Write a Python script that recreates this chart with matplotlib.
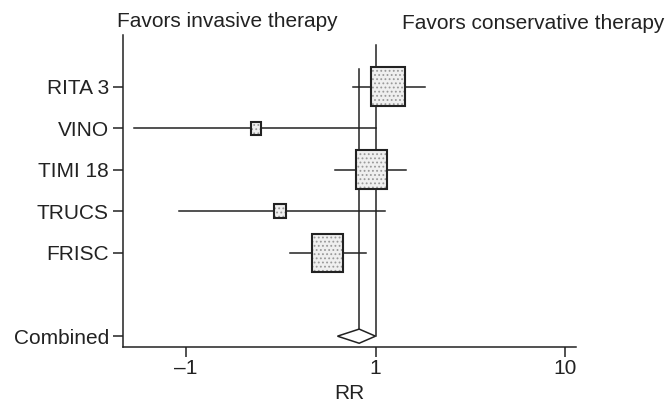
import numpy as np
import matplotlib
matplotlib.use('Agg')
import matplotlib.pyplot as plt
from matplotlib.patches import Rectangle, Polygon

plt.rcParams['font.family'] = ['Liberation Sans', 'DejaVu Sans']
plt.rcParams['hatch.linewidth'] = 0.8

studies = ['RITA 3', 'VINO', 'TIMI 18', 'TRUCS', 'FRISC']
rr = [1.16, 0.234, 0.95, 0.314, 0.56]
ci_lo = [0.76, 0.0535, 0.61, 0.092, 0.354]
ci_hi = [1.82, 1.0, 1.45, 1.12, 0.89]
# box size (width in decades, height in rows) ~ study weight
box_w = [0.18, 0.053, 0.163, 0.066, 0.163]
box_h = [0.94, 0.31, 0.94, 0.34, 0.91]

comb_rr, comb_lo, comb_hi = 0.82, 0.63, 1.0
ylabels = studies + ['Combined']
ypos = [0, 1, 2, 3, 4, 6]
xticks = [0.1, 1, 10]
xticklabels = ['\u20131', '1', '10']

ink = '#222222'
fs = 15
fig = plt.figure(figsize=(6.67, 4.03), dpi=100)
ax = fig.add_axes([0.184, 0.139, 0.6796, 0.774])
ax.set_xscale('log')

for i in range(len(studies)):
    ax.plot([ci_lo[i], ci_hi[i]], [i, i], color=ink, lw=1.1, zorder=2)
    x0 = rr[i] * 10 ** (-box_w[i] / 2)
    x1 = rr[i] * 10 ** (box_w[i] / 2)
    ax.add_patch(Rectangle((x0, i - box_h[i] / 2), x1 - x0, box_h[i],
                           facecolor='#efefef', edgecolor='#999999', hatch='....', lw=0, zorder=3))
    ax.add_patch(Rectangle((x0, i - box_h[i] / 2), x1 - x0, box_h[i],
                           fill=False, edgecolor=ink, lw=1.5, zorder=4))

# reference line and combined estimate line
ax.plot([1, 1], [-1, 6], color=ink, lw=1.1, zorder=1)
ax.plot([comb_rr, comb_rr], [-0.43, 6], color=ink, lw=1.1, zorder=1)
dh = 0.17
ax.add_patch(Polygon([(comb_lo, 6), (comb_rr, 6 - dh), (comb_hi, 6), (comb_rr, 6 + dh)],
                     closed=True, facecolor='white', edgecolor=ink, lw=1.1, zorder=5))

ax.set_xlim(0.0465, 11.4)
ax.set_ylim(6.26, -1.24)
ax.set_yticks(ypos)
ax.set_yticklabels(ylabels)
ax.set_xticks(xticks)
ax.set_xticklabels(xticklabels)
ax.minorticks_off()
ax.tick_params(axis='both', length=7, width=1.1, color=ink, labelcolor=ink, labelsize=fs, pad=3)
ax.tick_params(axis='x', pad=2)
ax.set_xlabel('RR', fontsize=fs, color=ink, labelpad=4)

ax.spines['right'].set_color('none')
ax.spines['top'].set_color('none')
for s in ['left', 'bottom']:
    ax.spines[s].set_linewidth(1.1)
    ax.spines[s].set_color(ink)

fig.text(0.1754, 0.933, 'Favors invasive therapy', fontsize=fs, color=ink, ha='left', va='baseline')
fig.text(0.6027, 0.928, 'Favors conservative therapy', fontsize=fs, color=ink, ha='left', va='baseline')

fig.savefig('out.png', dpi=100)
